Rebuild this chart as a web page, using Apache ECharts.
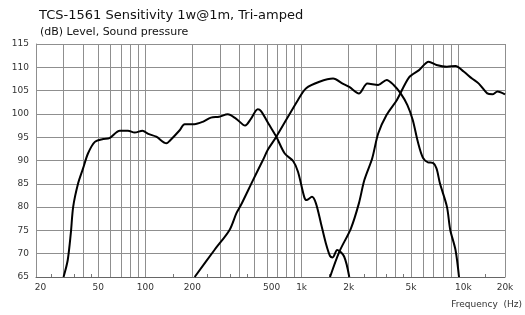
<!DOCTYPE html>
<html>
<head>
<meta charset="utf-8">
<script src="https://cdn.jsdelivr.net/npm/echarts@6/dist/echarts.min.js"></script>
<style>
  html, body { margin: 0; padding: 0; background: #fff; }
  #chart { width: 525px; height: 315px; }
</style>
</head>
<body>
<div id="chart"></div>
<script>
// frequency (Hz) / level (dB)
var wooferFreq = [30, 31.9, 33.4, 34.6, 37.2, 40, 43, 47.6, 53.8, 59, 68.7, 77.5, 85.5, 96, 104.5, 117.6, 136.6, 143, 166, 178.6, 206, 233, 263, 297, 337, 380, 435, 475, 524, 550, 622, 689, 780, 882, 948, 1039, 1074, 1165, 1235, 1330, 1430, 1520, 1580, 1690, 1870, 2018];
var wooferDb = [65, 68.6, 74.4, 80.1, 85.1, 88.3, 91.5, 94.0, 94.6, 94.8, 96.4, 96.4, 96.0, 96.4, 95.7, 95.1, 93.7, 94.2, 96.5, 97.8, 97.8, 98.3, 99.2, 99.4, 99.9, 99.0, 97.5, 99.0, 101, 100.6, 97.6, 95.1, 91.5, 89.9, 87.6, 82.2, 81.5, 82.2, 80.8, 76.5, 72.2, 69.5, 69.2, 70.8, 69.4, 65];

var midFreq = [207, 277, 346, 383, 410, 489, 566, 608, 689, 948, 1070, 1300, 1590, 1830, 2018, 2325, 2635, 3090, 3500, 3880, 4300, 4750, 5140, 5540, 5970, 6430, 6900, 7290, 7670, 8500, 8930, 9650, 10160];
var midDb = [65, 70.8, 75.1, 78.7, 80.5, 85.8, 90.1, 92.3, 95.1, 103, 105.5, 106.9, 107.6, 106.5, 105.8, 104.4, 106.5, 106.2, 107.3, 106.2, 104.4, 101.9, 98.7, 94.0, 90.6, 89.6, 89.5, 88.3, 85.1, 80.1, 75.1, 70.8, 65];

var tweeterFreq = [1520, 1742, 2066, 2325, 2520, 2830, 3090, 3500, 4070, 4880, 5640, 6500, 7290, 8500, 9650, 10880, 12300, 13600, 15400, 16600, 17900, 20000];
var tweeterDb = [65, 70.4, 75.4, 80.8, 85.8, 90.5, 95.8, 99.8, 103, 107.9, 109.4, 111.2, 110.5, 110.1, 110.3, 109.1, 107.6, 106.5, 104.4, 104.2, 104.8, 104.2];

var gridFreqs = [20, 30, 40, 50, 60, 70, 80, 90, 100, 200, 300, 400, 500, 600, 700, 800, 900, 1000, 2000, 3000, 4000, 5000, 6000, 7000, 8000, 9000, 10000, 20000];
var minorFreqs = [25, 35, 45, 150, 250, 350, 450, 1500, 2500, 3500, 4500, 15000];
var labelFreqs = [20, 50, 100, 200, 500, 1000, 2000, 5000, 10000, 20000];
var labelText = ['20', '50', '100', '200', '500', '1k', '2k', '5k', '10k', '20k'];

function pairs(xs, ys) {
    return xs.map(function (x, i) { return [x, ys[i]]; });
}

var chart = echarts.init(document.getElementById('chart'));

var FONT = 'DejaVu Sans';
var GRID_COLOR = '#8f8f8f';

function curve(name, xs, ys) {
    return {
        name: name,
        type: 'line',
        xAxisIndex: 0,
        data: pairs(xs, ys),
        smooth: 0.3,
        showSymbol: false,
        silent: true,
        lineStyle: { color: '#000', width: 2 }
    };
}

chart.setOption({
    animation: false,
    title: [
        { text: 'TCS-1561 Sensitivity 1w@1m, Tri-amped', left: 34, top: 4,
          textStyle: { fontFamily: FONT, fontSize: 13, fontWeight: 'normal', color: '#111' } },
        { text: '(dB) Level, Sound pressure', left: 35, top: 22,
          textStyle: { fontFamily: FONT, fontSize: 11, fontWeight: 'normal', color: '#111' } }
    ],
    grid: { left: 36, top: 44, right: 19, bottom: 38 },
    xAxis: [
        {
            // labels + minor ticks at the bottom
            type: 'log', logBase: 10, min: 20, max: 20000, position: 'bottom',
            axisLine: { show: true, lineStyle: { color: '#666', width: 1 } },
            axisTick: { show: true, inside: true, length: 3, customValues: minorFreqs, lineStyle: { color: '#777' } },
            splitLine: { show: false },
            axisLabel: {
                customValues: labelFreqs,
                margin: 6,
                fontFamily: FONT, fontSize: 9, color: '#333',
                formatter: function (v) {
                    var i = labelFreqs.indexOf(Math.round(v));
                    var t = i >= 0 ? labelText[i] : '';
                    if (t === '20') return '{a|20}';
                    if (t === '500') return '{b|500}';
                    if (t === '10k') return '{c|10k}';
                    return t;
                },
                rich: {
                    a: { fontFamily: FONT, fontSize: 9, color: '#333', padding: [0, 0, 0, 9] },
                    b: { fontFamily: FONT, fontSize: 9, color: '#333', padding: [0, 0, 0, 34] },
                    c: { fontFamily: FONT, fontSize: 9, color: '#333', padding: [0, 0, 0, 11] }
                }
            },
            name: 'Frequency  (Hz)',
            nameLocation: 'end',
            nameGap: 17,
            nameTextStyle: { fontFamily: FONT, fontSize: 9, color: '#333', align: 'right', verticalAlign: 'top', padding: [23, 0, 0, 0] }
        },
        {
            // vertical grid lines
            type: 'log', logBase: 10, min: 20, max: 20000, position: 'top',
            axisLine: { show: false },
            axisTick: { show: false, customValues: gridFreqs },
            axisLabel: { show: false },
            splitLine: { show: true, lineStyle: { color: GRID_COLOR, width: 1 } }
        },
        {
            // minor ticks along the top edge
            type: 'log', logBase: 10, min: 20, max: 20000, position: 'bottom',
            axisLine: { show: false },
            axisTick: { show: true, inside: true, length: 3, customValues: minorFreqs, lineStyle: { color: '#777' } },
            axisLabel: { show: false },
            splitLine: { show: false }
        }
    ],
    yAxis: {
        type: 'value', min: 65, max: 115, interval: 5,
        axisLine: { show: true, lineStyle: { color: GRID_COLOR } },
        axisTick: { show: false },
        axisLabel: { margin: 7, fontFamily: FONT, fontSize: 9, color: '#333' },
        splitLine: { show: true, lineStyle: { color: GRID_COLOR, width: 1 } }
    },
    series: [
        curve('Woofer', wooferFreq, wooferDb),
        curve('Mid', midFreq, midDb),
        curve('Tweeter', tweeterFreq, tweeterDb)
    ]
});
</script>
</body>
</html>
